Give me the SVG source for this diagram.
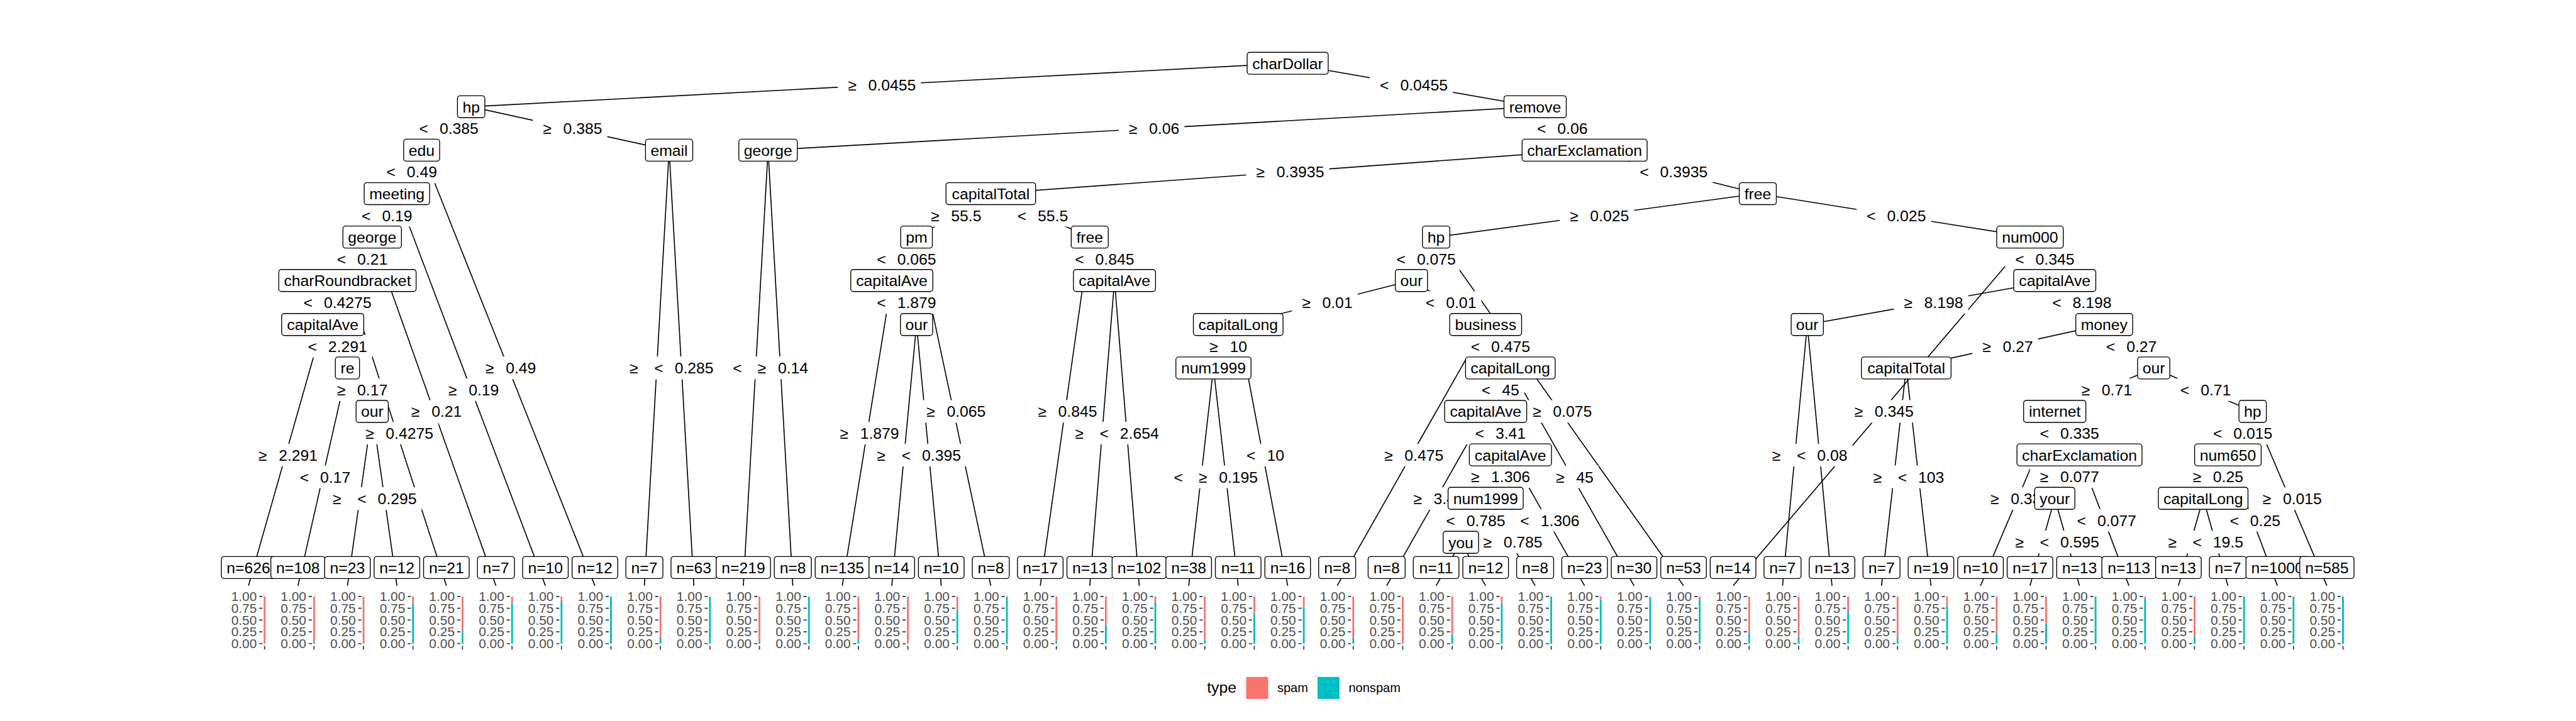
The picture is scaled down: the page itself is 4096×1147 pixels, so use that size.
<svg xmlns="http://www.w3.org/2000/svg" xmlns:xlink="http://www.w3.org/1999/xlink" width="4096" height="1147" viewBox="0 0 4096 1147">
<style>
text{font-family:"Liberation Sans",Arial,Helvetica,sans-serif}
.e{stroke:#000;stroke-width:1.9;fill:none}
.lb{fill:#fff}
.t{font-size:29px;text-anchor:middle;fill:#000}
.nb{fill:#fff;stroke:#000;stroke-width:1.6}
.tk{font-size:24.5px;text-anchor:end;fill:#4D4D4D}
.tm{stroke:#333;stroke-width:2;fill:none}
.sp{fill:#F8766D}
.ns{fill:#00BFC4}
.lg{font-size:23.5px;fill:#000}
</style>
<defs>
<g id="ax">
<text class="tk" x="15.5" y="1120.5">1.00</text>
<text class="tk" x="15.5" y="1142.5">0.75</text>
<text class="tk" x="15.5" y="1164.5">0.50</text>
<text class="tk" x="15.5" y="1186.5">0.25</text>
<text class="tk" x="15.5" y="1208.5">0.00</text>
<path class="tm" d="M20 1112h6M20 1134h6M20 1156h6M20 1178h6M20 1200h6M30 1204v7"/>
</g>
</defs>
<rect width="4096" height="1147" fill="#fff"/>
<g transform="scale(0.853333)">
<g id="connectors" class="e">
<path d="M2399.4 118L877.9 199"/><path d="M2399.4 118L2860.5 199"/>
<path d="M877.9 199L785.7 280"/><path d="M877.9 199L1246.8 280"/>
<path d="M785.7 280L739.6 361"/><path d="M785.7 280L1108.5 1092"/>
<path d="M739.6 361L693.5 442"/><path d="M739.6 361L1016.3 1092"/>
<path d="M693.5 442L647.4 523"/><path d="M693.5 442L924.1 1092"/>
<path d="M647.4 523L601.3 605"/><path d="M647.4 523L831.8 1092"/>
<path d="M601.3 605L463 1092"/><path d="M601.3 605L647.4 686"/>
<path d="M647.4 686L555.2 1092"/><path d="M647.4 686L693.5 767"/>
<path d="M693.5 767L647.4 1092"/><path d="M693.5 767L739.6 1092"/>
<path d="M1246.8 280L1200.7 1092"/><path d="M1246.8 280L1292.9 1092"/>
<path d="M2860.5 199L1431.2 280"/><path d="M2860.5 199L2952.7 280"/>
<path d="M1431.2 280L1385.1 1092"/><path d="M1431.2 280L1477.3 1092"/>
<path d="M2952.7 280L1846.2 361"/><path d="M2952.7 280L3275.4 361"/>
<path d="M1846.2 361L1707.8 442"/><path d="M1846.2 361L2030.6 442"/>
<path d="M1707.8 442L1661.7 523"/><path d="M1707.8 442L1846.2 1092"/>
<path d="M1661.7 523L1569.5 1092"/><path d="M1661.7 523L1707.8 605"/>
<path d="M1707.8 605L1661.7 1092"/><path d="M1707.8 605L1753.9 1092"/>
<path d="M2030.6 442L1938.4 1092"/><path d="M2030.6 442L2076.7 523"/>
<path d="M2076.7 523L2030.6 1092"/><path d="M2076.7 523L2122.8 1092"/>
<path d="M3275.4 361L2676 442"/><path d="M3275.4 361L3782.6 442"/>
<path d="M2676 442L2630 523"/><path d="M2676 442L3137.1 1092"/>
<path d="M2630 523L2307.2 605"/><path d="M2630 523L2768.3 605"/>
<path d="M2307.2 605L2261.1 686"/><path d="M2307.2 605L2399.4 1092"/>
<path d="M2261.1 686L2215 1092"/><path d="M2261.1 686L2307.2 1092"/>
<path d="M2768.3 605L2491.6 1092"/><path d="M2768.3 605L2814.4 686"/>
<path d="M2814.4 686L2768.3 767"/><path d="M2814.4 686L3044.9 1092"/>
<path d="M2768.3 767L2583.8 1092"/><path d="M2768.3 767L2814.4 848"/>
<path d="M2814.4 848L2768.3 929"/><path d="M2814.4 848L2952.7 1092"/>
<path d="M2768.3 929L2722.1 1011"/><path d="M2768.3 929L2860.5 1092"/>
<path d="M2722.1 1011L2676 1092"/><path d="M2722.1 1011L2768.3 1092"/>
<path d="M3782.6 442L3229.3 1092"/><path d="M3782.6 442L3828.7 523"/>
<path d="M3828.7 523L3367.6 605"/><path d="M3828.7 523L3920.9 605"/>
<path d="M3367.6 605L3321.5 1092"/><path d="M3367.6 605L3413.7 1092"/>
<path d="M3920.9 605L3552 686"/><path d="M3920.9 605L4013.1 686"/>
<path d="M3552 686L3505.9 1092"/><path d="M3552 686L3598.1 1092"/>
<path d="M4013.1 686L3828.7 767"/><path d="M4013.1 686L4197.5 767"/>
<path d="M3828.7 767L3690.4 1092"/><path d="M3828.7 767L3874.8 848"/>
<path d="M3874.8 848L3828.7 929"/><path d="M3874.8 848L3967 1092"/>
<path d="M3828.7 929L3782.6 1092"/><path d="M3828.7 929L3874.8 1092"/>
<path d="M4197.5 767L4151.4 848"/><path d="M4197.5 767L4335.8 1092"/>
<path d="M4151.4 848L4105.3 929"/><path d="M4151.4 848L4243.6 1092"/>
<path d="M4105.3 929L4059.2 1092"/><path d="M4105.3 929L4151.4 1092"/>
</g>
<g id="edge-labels">
<g transform="translate(1638.65 158.5)"><rect class="lb" x="-77.35" y="-21" width="154.7" height="42"/><text class="t" x="4.5" y="10.5">≥<tspan dx="22">0.0455</tspan></text></g>
<g transform="translate(2629.95 158.5)"><rect class="lb" x="-77.35" y="-21" width="154.7" height="42"/><text class="t" x="4.5" y="10.5">&lt;<tspan dx="21">0.0455</tspan></text></g>
<g transform="translate(831.8 239.5)"><rect class="lb" x="-69.3" y="-21" width="138.6" height="42"/><text class="t" x="4.5" y="10.5">&lt;<tspan dx="21">0.385</tspan></text></g>
<g transform="translate(1062.35 239.5)"><rect class="lb" x="-69.3" y="-21" width="138.6" height="42"/><text class="t" x="4.5" y="10.5">≥<tspan dx="22">0.385</tspan></text></g>
<g transform="translate(762.65 320.5)"><rect class="lb" x="-61.2" y="-21" width="122.4" height="42"/><text class="t" x="4.5" y="10.5">&lt;<tspan dx="21">0.49</tspan></text></g>
<g transform="translate(947.1 686)"><rect class="lb" x="-61.2" y="-21" width="122.4" height="42"/><text class="t" x="4.5" y="10.5">≥<tspan dx="22">0.49</tspan></text></g>
<g transform="translate(716.55 401.5)"><rect class="lb" x="-61.2" y="-21" width="122.4" height="42"/><text class="t" x="4.5" y="10.5">&lt;<tspan dx="21">0.19</tspan></text></g>
<g transform="translate(877.95 726.5)"><rect class="lb" x="-61.2" y="-21" width="122.4" height="42"/><text class="t" x="4.5" y="10.5">≥<tspan dx="22">0.19</tspan></text></g>
<g transform="translate(670.45 482.5)"><rect class="lb" x="-61.2" y="-21" width="122.4" height="42"/><text class="t" x="4.5" y="10.5">&lt;<tspan dx="21">0.21</tspan></text></g>
<g transform="translate(808.8 767)"><rect class="lb" x="-61.2" y="-21" width="122.4" height="42"/><text class="t" x="4.5" y="10.5">≥<tspan dx="22">0.21</tspan></text></g>
<g transform="translate(624.35 564)"><rect class="lb" x="-77.35" y="-21" width="154.7" height="42"/><text class="t" x="4.5" y="10.5">&lt;<tspan dx="21">0.4275</tspan></text></g>
<g transform="translate(739.6 807.5)"><rect class="lb" x="-77.35" y="-21" width="154.7" height="42"/><text class="t" x="4.5" y="10.5">≥<tspan dx="22">0.4275</tspan></text></g>
<g transform="translate(532.15 848.5)"><rect class="lb" x="-69.3" y="-21" width="138.6" height="42"/><text class="t" x="4.5" y="10.5">≥<tspan dx="22">2.291</tspan></text></g>
<g transform="translate(624.35 645.5)"><rect class="lb" x="-69.3" y="-21" width="138.6" height="42"/><text class="t" x="4.5" y="10.5">&lt;<tspan dx="21">2.291</tspan></text></g>
<g transform="translate(601.3 889)"><rect class="lb" x="-61.2" y="-21" width="122.4" height="42"/><text class="t" x="4.5" y="10.5">&lt;<tspan dx="21">0.17</tspan></text></g>
<g transform="translate(670.45 726.5)"><rect class="lb" x="-61.2" y="-21" width="122.4" height="42"/><text class="t" x="4.5" y="10.5">≥<tspan dx="22">0.17</tspan></text></g>
<g transform="translate(670.45 929.5)"><rect class="lb" x="-69.3" y="-21" width="138.6" height="42"/><text class="t" x="4.5" y="10.5">≥<tspan dx="22">0.295</tspan></text></g>
<g transform="translate(716.55 929.5)"><rect class="lb" x="-69.3" y="-21" width="138.6" height="42"/><text class="t" x="4.5" y="10.5">&lt;<tspan dx="21">0.295</tspan></text></g>
<g transform="translate(1223.75 686)"><rect class="lb" x="-69.3" y="-21" width="138.6" height="42"/><text class="t" x="4.5" y="10.5">≥<tspan dx="22">0.285</tspan></text></g>
<g transform="translate(1269.85 686)"><rect class="lb" x="-69.3" y="-21" width="138.6" height="42"/><text class="t" x="4.5" y="10.5">&lt;<tspan dx="21">0.285</tspan></text></g>
<g transform="translate(2145.85 239.5)"><rect class="lb" x="-61.2" y="-21" width="122.4" height="42"/><text class="t" x="4.5" y="10.5">≥<tspan dx="22">0.06</tspan></text></g>
<g transform="translate(2906.6 239.5)"><rect class="lb" x="-61.2" y="-21" width="122.4" height="42"/><text class="t" x="4.5" y="10.5">&lt;<tspan dx="21">0.06</tspan></text></g>
<g transform="translate(1408.15 686)"><rect class="lb" x="-61.2" y="-21" width="122.4" height="42"/><text class="t" x="4.5" y="10.5">&lt;<tspan dx="21">0.14</tspan></text></g>
<g transform="translate(1454.25 686)"><rect class="lb" x="-61.2" y="-21" width="122.4" height="42"/><text class="t" x="4.5" y="10.5">≥<tspan dx="22">0.14</tspan></text></g>
<g transform="translate(2399.45 320.5)"><rect class="lb" x="-77.35" y="-21" width="154.7" height="42"/><text class="t" x="4.5" y="10.5">≥<tspan dx="22">0.3935</tspan></text></g>
<g transform="translate(3114.05 320.5)"><rect class="lb" x="-77.35" y="-21" width="154.7" height="42"/><text class="t" x="4.5" y="10.5">&lt;<tspan dx="21">0.3935</tspan></text></g>
<g transform="translate(1777 401.5)"><rect class="lb" x="-61.2" y="-21" width="122.4" height="42"/><text class="t" x="4.5" y="10.5">≥<tspan dx="22">55.5</tspan></text></g>
<g transform="translate(1938.4 401.5)"><rect class="lb" x="-61.2" y="-21" width="122.4" height="42"/><text class="t" x="4.5" y="10.5">&lt;<tspan dx="21">55.5</tspan></text></g>
<g transform="translate(1684.75 482.5)"><rect class="lb" x="-69.3" y="-21" width="138.6" height="42"/><text class="t" x="4.5" y="10.5">&lt;<tspan dx="21">0.065</tspan></text></g>
<g transform="translate(1777 767)"><rect class="lb" x="-69.3" y="-21" width="138.6" height="42"/><text class="t" x="4.5" y="10.5">≥<tspan dx="22">0.065</tspan></text></g>
<g transform="translate(1615.6 807.5)"><rect class="lb" x="-69.3" y="-21" width="138.6" height="42"/><text class="t" x="4.5" y="10.5">≥<tspan dx="22">1.879</tspan></text></g>
<g transform="translate(1684.75 564)"><rect class="lb" x="-69.3" y="-21" width="138.6" height="42"/><text class="t" x="4.5" y="10.5">&lt;<tspan dx="21">1.879</tspan></text></g>
<g transform="translate(1684.75 848.5)"><rect class="lb" x="-69.3" y="-21" width="138.6" height="42"/><text class="t" x="4.5" y="10.5">≥<tspan dx="22">0.395</tspan></text></g>
<g transform="translate(1730.85 848.5)"><rect class="lb" x="-69.3" y="-21" width="138.6" height="42"/><text class="t" x="4.5" y="10.5">&lt;<tspan dx="21">0.395</tspan></text></g>
<g transform="translate(1984.5 767)"><rect class="lb" x="-69.3" y="-21" width="138.6" height="42"/><text class="t" x="4.5" y="10.5">≥<tspan dx="22">0.845</tspan></text></g>
<g transform="translate(2053.65 482.5)"><rect class="lb" x="-69.3" y="-21" width="138.6" height="42"/><text class="t" x="4.5" y="10.5">&lt;<tspan dx="21">0.845</tspan></text></g>
<g transform="translate(2053.65 807.5)"><rect class="lb" x="-69.3" y="-21" width="138.6" height="42"/><text class="t" x="4.5" y="10.5">≥<tspan dx="22">2.654</tspan></text></g>
<g transform="translate(2099.75 807.5)"><rect class="lb" x="-69.3" y="-21" width="138.6" height="42"/><text class="t" x="4.5" y="10.5">&lt;<tspan dx="21">2.654</tspan></text></g>
<g transform="translate(2975.7 401.5)"><rect class="lb" x="-69.3" y="-21" width="138.6" height="42"/><text class="t" x="4.5" y="10.5">≥<tspan dx="22">0.025</tspan></text></g>
<g transform="translate(3529 401.5)"><rect class="lb" x="-69.3" y="-21" width="138.6" height="42"/><text class="t" x="4.5" y="10.5">&lt;<tspan dx="21">0.025</tspan></text></g>
<g transform="translate(2653 482.5)"><rect class="lb" x="-69.3" y="-21" width="138.6" height="42"/><text class="t" x="4.5" y="10.5">&lt;<tspan dx="21">0.075</tspan></text></g>
<g transform="translate(2906.55 767)"><rect class="lb" x="-69.3" y="-21" width="138.6" height="42"/><text class="t" x="4.5" y="10.5">≥<tspan dx="22">0.075</tspan></text></g>
<g transform="translate(2468.6 564)"><rect class="lb" x="-61.2" y="-21" width="122.4" height="42"/><text class="t" x="4.5" y="10.5">≥<tspan dx="22">0.01</tspan></text></g>
<g transform="translate(2699.15 564)"><rect class="lb" x="-61.2" y="-21" width="122.4" height="42"/><text class="t" x="4.5" y="10.5">&lt;<tspan dx="21">0.01</tspan></text></g>
<g transform="translate(2284.15 645.5)"><rect class="lb" x="-49.1" y="-21" width="98.2" height="42"/><text class="t" x="4.5" y="10.5">≥<tspan dx="22">10</tspan></text></g>
<g transform="translate(2353.3 848.5)"><rect class="lb" x="-49.1" y="-21" width="98.2" height="42"/><text class="t" x="4.5" y="10.5">&lt;<tspan dx="21">10</tspan></text></g>
<g transform="translate(2238.05 889)"><rect class="lb" x="-69.3" y="-21" width="138.6" height="42"/><text class="t" x="4.5" y="10.5">&lt;<tspan dx="21">0.195</tspan></text></g>
<g transform="translate(2284.15 889)"><rect class="lb" x="-69.3" y="-21" width="138.6" height="42"/><text class="t" x="4.5" y="10.5">≥<tspan dx="22">0.195</tspan></text></g>
<g transform="translate(2629.95 848.5)"><rect class="lb" x="-69.3" y="-21" width="138.6" height="42"/><text class="t" x="4.5" y="10.5">≥<tspan dx="22">0.475</tspan></text></g>
<g transform="translate(2791.35 645.5)"><rect class="lb" x="-69.3" y="-21" width="138.6" height="42"/><text class="t" x="4.5" y="10.5">&lt;<tspan dx="21">0.475</tspan></text></g>
<g transform="translate(2791.35 726.5)"><rect class="lb" x="-49.1" y="-21" width="98.2" height="42"/><text class="t" x="4.5" y="10.5">&lt;<tspan dx="21">45</tspan></text></g>
<g transform="translate(2929.65 889)"><rect class="lb" x="-49.1" y="-21" width="98.2" height="42"/><text class="t" x="4.5" y="10.5">≥<tspan dx="22">45</tspan></text></g>
<g transform="translate(2676.05 929.5)"><rect class="lb" x="-61.2" y="-21" width="122.4" height="42"/><text class="t" x="4.5" y="10.5">≥<tspan dx="22">3.41</tspan></text></g>
<g transform="translate(2791.35 807.5)"><rect class="lb" x="-61.2" y="-21" width="122.4" height="42"/><text class="t" x="4.5" y="10.5">&lt;<tspan dx="21">3.41</tspan></text></g>
<g transform="translate(2791.35 888.5)"><rect class="lb" x="-69.3" y="-21" width="138.6" height="42"/><text class="t" x="4.5" y="10.5">≥<tspan dx="22">1.306</tspan></text></g>
<g transform="translate(2883.55 970)"><rect class="lb" x="-69.3" y="-21" width="138.6" height="42"/><text class="t" x="4.5" y="10.5">&lt;<tspan dx="21">1.306</tspan></text></g>
<g transform="translate(2745.2 970)"><rect class="lb" x="-69.3" y="-21" width="138.6" height="42"/><text class="t" x="4.5" y="10.5">&lt;<tspan dx="21">0.785</tspan></text></g>
<g transform="translate(2814.4 1010.5)"><rect class="lb" x="-69.3" y="-21" width="138.6" height="42"/><text class="t" x="4.5" y="10.5">≥<tspan dx="22">0.785</tspan></text></g>
<g transform="translate(3505.95 767)"><rect class="lb" x="-69.3" y="-21" width="138.6" height="42"/><text class="t" x="4.5" y="10.5">≥<tspan dx="22">0.345</tspan></text></g>
<g transform="translate(3805.65 482.5)"><rect class="lb" x="-69.3" y="-21" width="138.6" height="42"/><text class="t" x="4.5" y="10.5">&lt;<tspan dx="21">0.345</tspan></text></g>
<g transform="translate(3598.15 564)"><rect class="lb" x="-69.3" y="-21" width="138.6" height="42"/><text class="t" x="4.5" y="10.5">≥<tspan dx="22">8.198</tspan></text></g>
<g transform="translate(3874.8 564)"><rect class="lb" x="-69.3" y="-21" width="138.6" height="42"/><text class="t" x="4.5" y="10.5">&lt;<tspan dx="21">8.198</tspan></text></g>
<g transform="translate(3344.55 848.5)"><rect class="lb" x="-61.2" y="-21" width="122.4" height="42"/><text class="t" x="4.5" y="10.5">≥<tspan dx="22">0.08</tspan></text></g>
<g transform="translate(3390.65 848.5)"><rect class="lb" x="-61.2" y="-21" width="122.4" height="42"/><text class="t" x="4.5" y="10.5">&lt;<tspan dx="21">0.08</tspan></text></g>
<g transform="translate(3736.45 645.5)"><rect class="lb" x="-61.2" y="-21" width="122.4" height="42"/><text class="t" x="4.5" y="10.5">≥<tspan dx="22">0.27</tspan></text></g>
<g transform="translate(3967 645.5)"><rect class="lb" x="-61.2" y="-21" width="122.4" height="42"/><text class="t" x="4.5" y="10.5">&lt;<tspan dx="21">0.27</tspan></text></g>
<g transform="translate(3528.95 889)"><rect class="lb" x="-57.2" y="-21" width="114.4" height="42"/><text class="t" x="4.5" y="10.5">≥<tspan dx="22">103</tspan></text></g>
<g transform="translate(3575.05 889)"><rect class="lb" x="-57.2" y="-21" width="114.4" height="42"/><text class="t" x="4.5" y="10.5">&lt;<tspan dx="21">103</tspan></text></g>
<g transform="translate(3920.9 726.5)"><rect class="lb" x="-61.2" y="-21" width="122.4" height="42"/><text class="t" x="4.5" y="10.5">≥<tspan dx="22">0.71</tspan></text></g>
<g transform="translate(4105.3 726.5)"><rect class="lb" x="-61.2" y="-21" width="122.4" height="42"/><text class="t" x="4.5" y="10.5">&lt;<tspan dx="21">0.71</tspan></text></g>
<g transform="translate(3759.55 929.5)"><rect class="lb" x="-69.3" y="-21" width="138.6" height="42"/><text class="t" x="4.5" y="10.5">≥<tspan dx="22">0.335</tspan></text></g>
<g transform="translate(3851.75 807.5)"><rect class="lb" x="-69.3" y="-21" width="138.6" height="42"/><text class="t" x="4.5" y="10.5">&lt;<tspan dx="21">0.335</tspan></text></g>
<g transform="translate(3851.75 888.5)"><rect class="lb" x="-69.3" y="-21" width="138.6" height="42"/><text class="t" x="4.5" y="10.5">≥<tspan dx="22">0.077</tspan></text></g>
<g transform="translate(3920.9 970)"><rect class="lb" x="-69.3" y="-21" width="138.6" height="42"/><text class="t" x="4.5" y="10.5">&lt;<tspan dx="21">0.077</tspan></text></g>
<g transform="translate(3805.65 1010.5)"><rect class="lb" x="-69.3" y="-21" width="138.6" height="42"/><text class="t" x="4.5" y="10.5">≥<tspan dx="22">0.595</tspan></text></g>
<g transform="translate(3851.75 1010.5)"><rect class="lb" x="-69.3" y="-21" width="138.6" height="42"/><text class="t" x="4.5" y="10.5">&lt;<tspan dx="21">0.595</tspan></text></g>
<g transform="translate(4174.45 807.5)"><rect class="lb" x="-69.3" y="-21" width="138.6" height="42"/><text class="t" x="4.5" y="10.5">&lt;<tspan dx="21">0.015</tspan></text></g>
<g transform="translate(4266.65 929.5)"><rect class="lb" x="-69.3" y="-21" width="138.6" height="42"/><text class="t" x="4.5" y="10.5">≥<tspan dx="22">0.015</tspan></text></g>
<g transform="translate(4128.35 888.5)"><rect class="lb" x="-61.2" y="-21" width="122.4" height="42"/><text class="t" x="4.5" y="10.5">≥<tspan dx="22">0.25</tspan></text></g>
<g transform="translate(4197.5 970)"><rect class="lb" x="-61.2" y="-21" width="122.4" height="42"/><text class="t" x="4.5" y="10.5">&lt;<tspan dx="21">0.25</tspan></text></g>
<g transform="translate(4082.25 1010.5)"><rect class="lb" x="-61.2" y="-21" width="122.4" height="42"/><text class="t" x="4.5" y="10.5">≥<tspan dx="22">19.5</tspan></text></g>
<g transform="translate(4128.35 1010.5)"><rect class="lb" x="-61.2" y="-21" width="122.4" height="42"/><text class="t" x="4.5" y="10.5">&lt;<tspan dx="21">19.5</tspan></text></g>
</g>
<g id="nodes">
<g id="n1" transform="translate(2399.4 118)"><rect class="nb" x="-75.5" y="-20.5" width="151" height="41" rx="5"/><text class="t" y="10.5">charDollar</text></g>
<g id="n2" transform="translate(877.9 199)"><rect class="nb" x="-25.5" y="-20.5" width="51" height="41" rx="5"/><text class="t" y="10.5">hp</text></g>
<g id="n3" transform="translate(2860.5 199)"><rect class="nb" x="-58" y="-20.5" width="116" height="41" rx="5"/><text class="t" y="10.5">remove</text></g>
<g id="n4" transform="translate(785.7 280)"><rect class="nb" x="-33.5" y="-20.5" width="67" height="41" rx="5"/><text class="t" y="10.5">edu</text></g>
<g id="n5" transform="translate(1246.8 280)"><rect class="nb" x="-44" y="-20.5" width="88" height="41" rx="5"/><text class="t" y="10.5">email</text></g>
<g id="n6" transform="translate(1431.2 280)"><rect class="nb" x="-54.5" y="-20.5" width="109" height="41" rx="5"/><text class="t" y="10.5">george</text></g>
<g id="n7" transform="translate(2952.7 280)"><rect class="nb" x="-116.5" y="-20.5" width="233" height="41" rx="5"/><text class="t" y="10.5">charExclamation</text></g>
<g id="n8" transform="translate(739.6 361)"><rect class="nb" x="-61" y="-20.5" width="122" height="41" rx="5"/><text class="t" y="10.5">meeting</text></g>
<g id="n9" transform="translate(1846.2 361)"><rect class="nb" x="-83.5" y="-20.5" width="167" height="41" rx="5"/><text class="t" y="10.5">capitalTotal</text></g>
<g id="n10" transform="translate(3275.4 361)"><rect class="nb" x="-34.5" y="-20.5" width="69" height="41" rx="5"/><text class="t" y="10.5">free</text></g>
<g id="n11" transform="translate(693.5 442)"><rect class="nb" x="-54.5" y="-20.5" width="109" height="41" rx="5"/><text class="t" y="10.5">george</text></g>
<g id="n12" transform="translate(1707.8 442)"><rect class="nb" x="-29.5" y="-20.5" width="59" height="41" rx="5"/><text class="t" y="10.5">pm</text></g>
<g id="n13" transform="translate(2030.6 442)"><rect class="nb" x="-34.5" y="-20.5" width="69" height="41" rx="5"/><text class="t" y="10.5">free</text></g>
<g id="n14" transform="translate(2676 442)"><rect class="nb" x="-25.5" y="-20.5" width="51" height="41" rx="5"/><text class="t" y="10.5">hp</text></g>
<g id="n15" transform="translate(3782.6 442)"><rect class="nb" x="-62" y="-20.5" width="124" height="41" rx="5"/><text class="t" y="10.5">num000</text></g>
<g id="n16" transform="translate(647.4 523)"><rect class="nb" x="-128" y="-20.5" width="256" height="41" rx="5"/><text class="t" y="10.5">charRoundbracket</text></g>
<g id="n17" transform="translate(1661.7 523)"><rect class="nb" x="-76.5" y="-20.5" width="153" height="41" rx="5"/><text class="t" y="10.5">capitalAve</text></g>
<g id="n18" transform="translate(2076.7 523)"><rect class="nb" x="-76.5" y="-20.5" width="153" height="41" rx="5"/><text class="t" y="10.5">capitalAve</text></g>
<g id="n19" transform="translate(2630 523)"><rect class="nb" x="-30" y="-20.5" width="60" height="41" rx="5"/><text class="t" y="10.5">our</text></g>
<g id="n20" transform="translate(3828.7 523)"><rect class="nb" x="-76.5" y="-20.5" width="153" height="41" rx="5"/><text class="t" y="10.5">capitalAve</text></g>
<g id="n21" transform="translate(601.3 605)"><rect class="nb" x="-76.5" y="-20.5" width="153" height="41" rx="5"/><text class="t" y="10.5">capitalAve</text></g>
<g id="n22" transform="translate(1707.8 605)"><rect class="nb" x="-30" y="-20.5" width="60" height="41" rx="5"/><text class="t" y="10.5">our</text></g>
<g id="n23" transform="translate(2307.2 605)"><rect class="nb" x="-83.5" y="-20.5" width="167" height="41" rx="5"/><text class="t" y="10.5">capitalLong</text></g>
<g id="n24" transform="translate(2768.3 605)"><rect class="nb" x="-67" y="-20.5" width="134" height="41" rx="5"/><text class="t" y="10.5">business</text></g>
<g id="n25" transform="translate(3367.6 605)"><rect class="nb" x="-30" y="-20.5" width="60" height="41" rx="5"/><text class="t" y="10.5">our</text></g>
<g id="n26" transform="translate(3920.9 605)"><rect class="nb" x="-53" y="-20.5" width="106" height="41" rx="5"/><text class="t" y="10.5">money</text></g>
<g id="n27" transform="translate(647.4 686)"><rect class="nb" x="-22.5" y="-20.5" width="45" height="41" rx="5"/><text class="t" y="10.5">re</text></g>
<g id="n28" transform="translate(2261.1 686)"><rect class="nb" x="-70" y="-20.5" width="140" height="41" rx="5"/><text class="t" y="10.5">num1999</text></g>
<g id="n29" transform="translate(2814.4 686)"><rect class="nb" x="-83.5" y="-20.5" width="167" height="41" rx="5"/><text class="t" y="10.5">capitalLong</text></g>
<g id="n30" transform="translate(3552 686)"><rect class="nb" x="-83.5" y="-20.5" width="167" height="41" rx="5"/><text class="t" y="10.5">capitalTotal</text></g>
<g id="n31" transform="translate(4013.1 686)"><rect class="nb" x="-30" y="-20.5" width="60" height="41" rx="5"/><text class="t" y="10.5">our</text></g>
<g id="n32" transform="translate(693.5 767)"><rect class="nb" x="-30" y="-20.5" width="60" height="41" rx="5"/><text class="t" y="10.5">our</text></g>
<g id="n33" transform="translate(2768.3 767)"><rect class="nb" x="-76.5" y="-20.5" width="153" height="41" rx="5"/><text class="t" y="10.5">capitalAve</text></g>
<g id="n34" transform="translate(3828.7 767)"><rect class="nb" x="-58" y="-20.5" width="116" height="41" rx="5"/><text class="t" y="10.5">internet</text></g>
<g id="n35" transform="translate(4197.5 767)"><rect class="nb" x="-25.5" y="-20.5" width="51" height="41" rx="5"/><text class="t" y="10.5">hp</text></g>
<g id="n36" transform="translate(2814.4 848)"><rect class="nb" x="-76.5" y="-20.5" width="153" height="41" rx="5"/><text class="t" y="10.5">capitalAve</text></g>
<g id="n37" transform="translate(3874.8 848)"><rect class="nb" x="-116.5" y="-20.5" width="233" height="41" rx="5"/><text class="t" y="10.5">charExclamation</text></g>
<g id="n38" transform="translate(4151.4 848)"><rect class="nb" x="-62" y="-20.5" width="124" height="41" rx="5"/><text class="t" y="10.5">num650</text></g>
<g id="n39" transform="translate(2768.3 929)"><rect class="nb" x="-70" y="-20.5" width="140" height="41" rx="5"/><text class="t" y="10.5">num1999</text></g>
<g id="n40" transform="translate(3828.7 929)"><rect class="nb" x="-37.5" y="-20.5" width="75" height="41" rx="5"/><text class="t" y="10.5">your</text></g>
<g id="n41" transform="translate(4105.3 929)"><rect class="nb" x="-83.5" y="-20.5" width="167" height="41" rx="5"/><text class="t" y="10.5">capitalLong</text></g>
<g id="n42" transform="translate(2722.1 1011)"><rect class="nb" x="-33" y="-20.5" width="66" height="41" rx="5"/><text class="t" y="10.5">you</text></g>
</g>
<g id="leaves">
<g id="leaf1" transform="translate(463 0)"><rect class="nb" x="-50.5" y="1037.5" width="101" height="41" rx="5"/><text class="t" y="1068.5">n=626</text><use href="#ax"/><rect class="sp" x="28.3" y="1112" width="3.4" height="88"/></g>
<g id="leaf2" transform="translate(555.2 0)"><rect class="nb" x="-50.5" y="1037.5" width="101" height="41" rx="5"/><text class="t" y="1068.5">n=108</text><use href="#ax"/><rect class="sp" x="28.3" y="1112" width="3.4" height="85.3"/><rect class="ns" x="28.3" y="1197.3" width="3.4" height="2.7"/></g>
<g id="leaf3" transform="translate(647.4 0)"><rect class="nb" x="-42.5" y="1037.5" width="85" height="41" rx="5"/><text class="t" y="1068.5">n=23</text><use href="#ax"/><rect class="sp" x="28.3" y="1112" width="3.4" height="88"/></g>
<g id="leaf4" transform="translate(739.6 0)"><rect class="nb" x="-42.5" y="1037.5" width="85" height="41" rx="5"/><text class="t" y="1068.5">n=12</text><use href="#ax"/><rect class="sp" x="28.3" y="1112" width="3.4" height="14"/><rect class="ns" x="28.3" y="1126" width="3.4" height="74"/></g>
<g id="leaf5" transform="translate(831.8 0)"><rect class="nb" x="-42.5" y="1037.5" width="85" height="41" rx="5"/><text class="t" y="1068.5">n=21</text><use href="#ax"/><rect class="sp" x="28.3" y="1112" width="3.4" height="63.5"/><rect class="ns" x="28.3" y="1175.5" width="3.4" height="24.5"/></g>
<g id="leaf6" transform="translate(924.1 0)"><rect class="nb" x="-34.5" y="1037.5" width="69" height="41" rx="5"/><text class="t" y="1068.5">n=7</text><use href="#ax"/><rect class="sp" x="28.3" y="1112" width="3.4" height="12.5"/><rect class="ns" x="28.3" y="1124.5" width="3.4" height="75.5"/></g>
<g id="leaf7" transform="translate(1016.3 0)"><rect class="nb" x="-42.5" y="1037.5" width="85" height="41" rx="5"/><text class="t" y="1068.5">n=10</text><use href="#ax"/><rect class="sp" x="28.3" y="1112" width="3.4" height="8.5"/><rect class="ns" x="28.3" y="1120.5" width="3.4" height="79.5"/></g>
<g id="leaf8" transform="translate(1108.5 0)"><rect class="nb" x="-42.5" y="1037.5" width="85" height="41" rx="5"/><text class="t" y="1068.5">n=12</text><use href="#ax"/><rect class="ns" x="28.3" y="1112" width="3.4" height="88"/></g>
<g id="leaf9" transform="translate(1200.7 0)"><rect class="nb" x="-34.5" y="1037.5" width="69" height="41" rx="5"/><text class="t" y="1068.5">n=7</text><use href="#ax"/><rect class="sp" x="28.3" y="1112" width="3.4" height="75.5"/><rect class="ns" x="28.3" y="1187.5" width="3.4" height="12.5"/></g>
<g id="leaf10" transform="translate(1292.9 0)"><rect class="nb" x="-42.5" y="1037.5" width="85" height="41" rx="5"/><text class="t" y="1068.5">n=63</text><use href="#ax"/><rect class="sp" x="28.3" y="1112" width="3.4" height="1.4"/><rect class="ns" x="28.3" y="1113.4" width="3.4" height="86.6"/></g>
<g id="leaf11" transform="translate(1385.1 0)"><rect class="nb" x="-50.5" y="1037.5" width="101" height="41" rx="5"/><text class="t" y="1068.5">n=219</text><use href="#ax"/><rect class="sp" x="28.3" y="1112" width="3.4" height="84.8"/><rect class="ns" x="28.3" y="1196.8" width="3.4" height="3.2"/></g>
<g id="leaf12" transform="translate(1477.3 0)"><rect class="nb" x="-34.5" y="1037.5" width="69" height="41" rx="5"/><text class="t" y="1068.5">n=8</text><use href="#ax"/><rect class="ns" x="28.3" y="1112" width="3.4" height="88"/></g>
<g id="leaf13" transform="translate(1569.5 0)"><rect class="nb" x="-50.5" y="1037.5" width="101" height="41" rx="5"/><text class="t" y="1068.5">n=135</text><use href="#ax"/><rect class="sp" x="28.3" y="1112" width="3.4" height="81.4"/><rect class="ns" x="28.3" y="1193.4" width="3.4" height="6.6"/></g>
<g id="leaf14" transform="translate(1661.7 0)"><rect class="nb" x="-42.5" y="1037.5" width="85" height="41" rx="5"/><text class="t" y="1068.5">n=14</text><use href="#ax"/><rect class="sp" x="28.3" y="1112" width="3.4" height="88"/></g>
<g id="leaf15" transform="translate(1753.9 0)"><rect class="nb" x="-42.5" y="1037.5" width="85" height="41" rx="5"/><text class="t" y="1068.5">n=10</text><use href="#ax"/><rect class="sp" x="28.3" y="1112" width="3.4" height="26"/><rect class="ns" x="28.3" y="1138" width="3.4" height="62"/></g>
<g id="leaf16" transform="translate(1846.2 0)"><rect class="nb" x="-34.5" y="1037.5" width="69" height="41" rx="5"/><text class="t" y="1068.5">n=8</text><use href="#ax"/><rect class="ns" x="28.3" y="1112" width="3.4" height="88"/></g>
<g id="leaf17" transform="translate(1938.4 0)"><rect class="nb" x="-42.5" y="1037.5" width="85" height="41" rx="5"/><text class="t" y="1068.5">n=17</text><use href="#ax"/><rect class="sp" x="28.3" y="1112" width="3.4" height="82.8"/><rect class="ns" x="28.3" y="1194.8" width="3.4" height="5.2"/></g>
<g id="leaf18" transform="translate(2030.6 0)"><rect class="nb" x="-42.5" y="1037.5" width="85" height="41" rx="5"/><text class="t" y="1068.5">n=13</text><use href="#ax"/><rect class="sp" x="28.3" y="1112" width="3.4" height="54.2"/><rect class="ns" x="28.3" y="1166.2" width="3.4" height="33.8"/></g>
<g id="leaf19" transform="translate(2122.8 0)"><rect class="nb" x="-50.5" y="1037.5" width="101" height="41" rx="5"/><text class="t" y="1068.5">n=102</text><use href="#ax"/><rect class="sp" x="28.3" y="1112" width="3.4" height="10.5"/><rect class="ns" x="28.3" y="1122.5" width="3.4" height="77.5"/></g>
<g id="leaf20" transform="translate(2215 0)"><rect class="nb" x="-42.5" y="1037.5" width="85" height="41" rx="5"/><text class="t" y="1068.5">n=38</text><use href="#ax"/><rect class="sp" x="28.3" y="1112" width="3.4" height="81.2"/><rect class="ns" x="28.3" y="1193.2" width="3.4" height="6.8"/></g>
<g id="leaf21" transform="translate(2307.2 0)"><rect class="nb" x="-42.5" y="1037.5" width="85" height="41" rx="5"/><text class="t" y="1068.5">n=11</text><use href="#ax"/><rect class="sp" x="28.3" y="1112" width="3.4" height="32"/><rect class="ns" x="28.3" y="1144" width="3.4" height="56"/></g>
<g id="leaf22" transform="translate(2399.4 0)"><rect class="nb" x="-42.5" y="1037.5" width="85" height="41" rx="5"/><text class="t" y="1068.5">n=16</text><use href="#ax"/><rect class="sp" x="28.3" y="1112" width="3.4" height="22"/><rect class="ns" x="28.3" y="1134" width="3.4" height="66"/></g>
<g id="leaf23" transform="translate(2491.6 0)"><rect class="nb" x="-34.5" y="1037.5" width="69" height="41" rx="5"/><text class="t" y="1068.5">n=8</text><use href="#ax"/><rect class="sp" x="28.3" y="1112" width="3.4" height="77"/><rect class="ns" x="28.3" y="1189" width="3.4" height="11"/></g>
<g id="leaf24" transform="translate(2583.8 0)"><rect class="nb" x="-34.5" y="1037.5" width="69" height="41" rx="5"/><text class="t" y="1068.5">n=8</text><use href="#ax"/><rect class="sp" x="28.3" y="1112" width="3.4" height="88"/></g>
<g id="leaf25" transform="translate(2676 0)"><rect class="nb" x="-42.5" y="1037.5" width="85" height="41" rx="5"/><text class="t" y="1068.5">n=11</text><use href="#ax"/><rect class="sp" x="28.3" y="1112" width="3.4" height="72"/><rect class="ns" x="28.3" y="1184" width="3.4" height="16"/></g>
<g id="leaf26" transform="translate(2768.3 0)"><rect class="nb" x="-42.5" y="1037.5" width="85" height="41" rx="5"/><text class="t" y="1068.5">n=12</text><use href="#ax"/><rect class="sp" x="28.3" y="1112" width="3.4" height="13.5"/><rect class="ns" x="28.3" y="1125.5" width="3.4" height="74.5"/></g>
<g id="leaf27" transform="translate(2860.5 0)"><rect class="nb" x="-34.5" y="1037.5" width="69" height="41" rx="5"/><text class="t" y="1068.5">n=8</text><use href="#ax"/><rect class="ns" x="28.3" y="1112" width="3.4" height="88"/></g>
<g id="leaf28" transform="translate(2952.7 0)"><rect class="nb" x="-42.5" y="1037.5" width="85" height="41" rx="5"/><text class="t" y="1068.5">n=23</text><use href="#ax"/><rect class="sp" x="28.3" y="1112" width="3.4" height="6.7"/><rect class="ns" x="28.3" y="1118.7" width="3.4" height="81.3"/></g>
<g id="leaf29" transform="translate(3044.9 0)"><rect class="nb" x="-42.5" y="1037.5" width="85" height="41" rx="5"/><text class="t" y="1068.5">n=30</text><use href="#ax"/><rect class="sp" x="28.3" y="1112" width="3.4" height="1.8"/><rect class="ns" x="28.3" y="1113.8" width="3.4" height="86.2"/></g>
<g id="leaf30" transform="translate(3137.1 0)"><rect class="nb" x="-42.5" y="1037.5" width="85" height="41" rx="5"/><text class="t" y="1068.5">n=53</text><use href="#ax"/><rect class="sp" x="28.3" y="1112" width="3.4" height="5"/><rect class="ns" x="28.3" y="1117" width="3.4" height="83"/></g>
<g id="leaf31" transform="translate(3229.3 0)"><rect class="nb" x="-42.5" y="1037.5" width="85" height="41" rx="5"/><text class="t" y="1068.5">n=14</text><use href="#ax"/><rect class="sp" x="28.3" y="1112" width="3.4" height="69"/><rect class="ns" x="28.3" y="1181" width="3.4" height="19"/></g>
<g id="leaf32" transform="translate(3321.5 0)"><rect class="nb" x="-34.5" y="1037.5" width="69" height="41" rx="5"/><text class="t" y="1068.5">n=7</text><use href="#ax"/><rect class="sp" x="28.3" y="1112" width="3.4" height="75.5"/><rect class="ns" x="28.3" y="1187.5" width="3.4" height="12.5"/></g>
<g id="leaf33" transform="translate(3413.7 0)"><rect class="nb" x="-42.5" y="1037.5" width="85" height="41" rx="5"/><text class="t" y="1068.5">n=13</text><use href="#ax"/><rect class="sp" x="28.3" y="1112" width="3.4" height="27"/><rect class="ns" x="28.3" y="1139" width="3.4" height="61"/></g>
<g id="leaf34" transform="translate(3505.9 0)"><rect class="nb" x="-34.5" y="1037.5" width="69" height="41" rx="5"/><text class="t" y="1068.5">n=7</text><use href="#ax"/><rect class="sp" x="28.3" y="1112" width="3.4" height="75.5"/><rect class="ns" x="28.3" y="1187.5" width="3.4" height="12.5"/></g>
<g id="leaf35" transform="translate(3598.1 0)"><rect class="nb" x="-42.5" y="1037.5" width="85" height="41" rx="5"/><text class="t" y="1068.5">n=19</text><use href="#ax"/><rect class="sp" x="28.3" y="1112" width="3.4" height="18.5"/><rect class="ns" x="28.3" y="1130.5" width="3.4" height="69.5"/></g>
<g id="leaf36" transform="translate(3690.4 0)"><rect class="nb" x="-42.5" y="1037.5" width="85" height="41" rx="5"/><text class="t" y="1068.5">n=10</text><use href="#ax"/><rect class="sp" x="28.3" y="1112" width="3.4" height="70"/><rect class="ns" x="28.3" y="1182" width="3.4" height="18"/></g>
<g id="leaf37" transform="translate(3782.6 0)"><rect class="nb" x="-42.5" y="1037.5" width="85" height="41" rx="5"/><text class="t" y="1068.5">n=17</text><use href="#ax"/><rect class="sp" x="28.3" y="1112" width="3.4" height="51.5"/><rect class="ns" x="28.3" y="1163.5" width="3.4" height="36.5"/></g>
<g id="leaf38" transform="translate(3874.8 0)"><rect class="nb" x="-42.5" y="1037.5" width="85" height="41" rx="5"/><text class="t" y="1068.5">n=13</text><use href="#ax"/><rect class="ns" x="28.3" y="1112" width="3.4" height="88"/></g>
<g id="leaf39" transform="translate(3967 0)"><rect class="nb" x="-50.5" y="1037.5" width="101" height="41" rx="5"/><text class="t" y="1068.5">n=113</text><use href="#ax"/><rect class="sp" x="28.3" y="1112" width="3.4" height="4.3"/><rect class="ns" x="28.3" y="1116.3" width="3.4" height="83.7"/></g>
<g id="leaf40" transform="translate(4059.2 0)"><rect class="nb" x="-42.5" y="1037.5" width="85" height="41" rx="5"/><text class="t" y="1068.5">n=13</text><use href="#ax"/><rect class="sp" x="28.3" y="1112" width="3.4" height="74.7"/><rect class="ns" x="28.3" y="1186.7" width="3.4" height="13.3"/></g>
<g id="leaf41" transform="translate(4151.4 0)"><rect class="nb" x="-34.5" y="1037.5" width="69" height="41" rx="5"/><text class="t" y="1068.5">n=7</text><use href="#ax"/><rect class="ns" x="28.3" y="1112" width="3.4" height="88"/></g>
<g id="leaf42" transform="translate(4243.6 0)"><rect class="nb" x="-58.5" y="1037.5" width="117" height="41" rx="5"/><text class="t" y="1068.5">n=1000</text><use href="#ax"/><rect class="sp" x="28.3" y="1112" width="3.4" height="1.3"/><rect class="ns" x="28.3" y="1113.3" width="3.4" height="86.7"/></g>
<g id="leaf43" transform="translate(4335.8 0)"><rect class="nb" x="-50.5" y="1037.5" width="101" height="41" rx="5"/><text class="t" y="1068.5">n=585</text><use href="#ax"/><rect class="ns" x="28.3" y="1112" width="3.4" height="88"/></g>
</g>
<g id="legend">
<text x="2249" y="1291" style="font-size:29px">type</text>
<rect class="sp" x="2322" y="1262" width="41" height="41"/>
<text class="lg" x="2380" y="1290">spam</text>
<rect class="ns" x="2455" y="1262" width="41" height="41"/>
<text class="lg" x="2513" y="1290">nonspam</text>
</g>
</g>
</svg>
